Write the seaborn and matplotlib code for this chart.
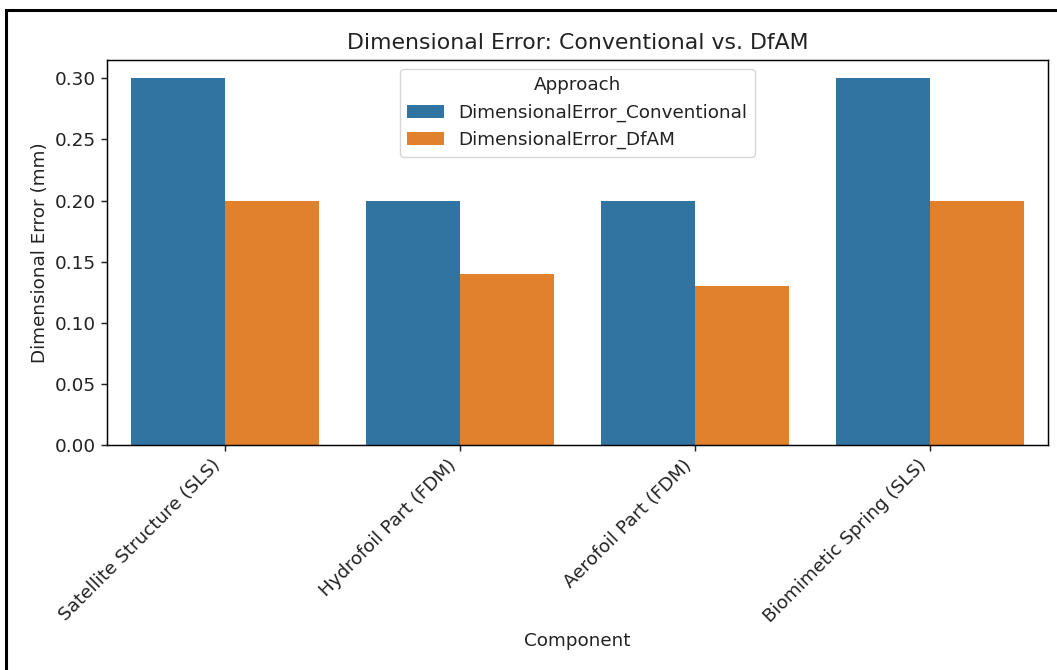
import numpy as np
import pandas as pd
import matplotlib
matplotlib.use("Agg")
import matplotlib.pyplot as plt
import matplotlib.patches as patches
import seaborn as sns

components = ["Satellite Structure (SLS)", "Hydrofoil Part (FDM)",
              "Aerofoil Part (FDM)", "Biomimetic Spring (SLS)"]
error_conventional = [0.30, 0.20, 0.20, 0.30]
error_dfam = [0.20, 0.14, 0.13, 0.20]

df = pd.DataFrame({
    "Component": components,
    "DimensionalError_Conventional": error_conventional,
    "DimensionalError_DfAM": error_dfam,
})
long_df = df.melt(id_vars="Component", var_name="Approach", value_name="Error")

# the screenshot is an upscaled figure, so scale fonts and lines up
s = 1.32
plt.rcParams.update({
    "font.size": 10 * s,
    "axes.titlesize": 12 * s,
    "axes.labelsize": 10 * s,
    "xtick.labelsize": 10 * s,
    "ytick.labelsize": 10 * s,
    "legend.fontsize": 10 * s,
    "legend.title_fontsize": 10 * s,
    "axes.linewidth": 0.8 * s,
    "xtick.major.size": 3.5 * s,
    "ytick.major.size": 3.5 * s,
    "xtick.major.width": 0.8 * s,
    "ytick.major.width": 0.8 * s,
    "text.color": "#222222",
    "xtick.color": "#222222",
    "ytick.color": "#222222",
    "axes.labelcolor": "#222222",
})

fig = plt.figure(figsize=(10.57, 6.70), dpi=100)
ax = fig.add_axes([107 / 1057, 225 / 670, 941 / 1057, 385 / 670])

sns.barplot(data=long_df, x="Component", y="Error", hue="Approach", ax=ax)
ax.set_title("Dimensional Error: Conventional vs. DfAM", pad=8)
ax.set_xlabel("Component")
ax.set_ylabel("Dimensional Error (mm)")
ax.set_xticks(range(len(components)))
ax.set_xticklabels(components, rotation=45, ha="right")
ax.legend(title="Approach", loc="upper center")

# frame from the original screenshot
fig.patches.append(patches.Rectangle((6 / 1057, -0.1), 1.2, 1.1 - 10 / 670,
                                     transform=fig.transFigure, fill=False,
                                     edgecolor="black", linewidth=2.2))

fig.savefig("out.png", dpi=100)
